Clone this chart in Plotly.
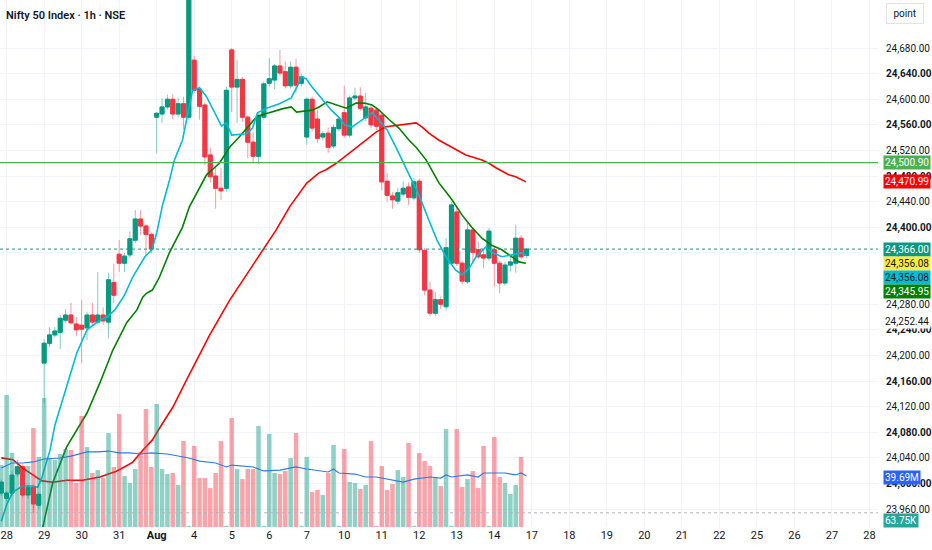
import plotly.graph_objects as go

# hourly bars, index 0 = last hour of Jul 25, then 7 bars per trading day
opens = [23985, 23977, 23985, 24015, 24026, 23982, 23994, 23966,
         24188, 24219, 24232, 24236, 24255, 24263, 24249,
         24247, 24243, 24263, 24252, 24263, 24252, 24314,
         24358, 24344, 24357, 24380, 24413, 24402, 24389,
         24572, 24577, 24588, 24600, 24577, 24593, 24572,
         24661, 24616, 24591, 24513, 24480, 24461, 24461,
         24677, 24619, 24631, 24572, 24533, 24511, 24572,
         24625, 24630, 24652, 24643, 24621, 24650, 24625,
         24541, 24600, 24569, 24541, 24547, 24527, 24554,
         24579, 24544, 24602, 24605, 24571, 24586, 24583,
         24575, 24472, 24449, 24441, 24452, 24463, 24446,
         24472, 24364, 24302, 24266, 24287, 24276, 24344,
         24424, 24344, 24315, 24396, 24365, 24357, 24352,
         24365, 24344, 24313, 24341, 24344, 24383, 24356]
highs = [24006, 23988, 24020, 24037, 24030, 23998, 23998, 23986,
         24225, 24244, 24244, 24263, 24272, 24282, 24260,
         24287, 24268, 24282, 24330, 24275, 24329, 24343,
         24380, 24360, 24394, 24427, 24427, 24405, 24392,
         24580, 24602, 24607, 24608, 24602, 24604, 24790,
         24668, 24620, 24595, 24525, 24493, 24493, 24620,
         24680, 24661, 24635, 24575, 24549, 24578, 24628,
         24664, 24655, 24677, 24659, 24659, 24663, 24640,
         24603, 24604, 24583, 24550, 24556, 24560, 24572,
         24621, 24606, 24618, 24619, 24610, 24590, 24587,
         24580, 24485, 24455, 24462, 24472, 24470, 24477,
         24476, 24368, 24315, 24299, 24292, 24383, 24440,
         24430, 24348, 24407, 24399, 24378, 24366, 24399,
         24370, 24348, 24346, 24355, 24404, 24388, 24368]
lows = [23980, 23972, 23980, 24010, 23978, 23976, 23954, 23960,
        24125, 24213, 24228, 24210, 24250, 24248, 24230,
        24188, 24224, 24245, 24248, 24248, 24227, 24282,
        24330, 24330, 24352, 24375, 24388, 24355, 24360,
        24516, 24563, 24584, 24569, 24572, 24553, 24568,
        24610, 24568, 24497, 24470, 24429, 24443, 24455,
        24580, 24563, 24565, 24508, 24500, 24499, 24568,
        24620, 24616, 24636, 24617, 24617, 24610, 24620,
        24529, 24550, 24532, 24536, 24516, 24523, 24550,
        24540, 24540, 24598, 24582, 24566, 24555, 24552,
        24458, 24440, 24429, 24436, 24448, 24435, 24442,
        24360, 24294, 24262, 24262, 24272, 24270, 24340,
        24340, 24311, 24312, 24346, 24350, 24336, 24348,
        24307, 24297, 24309, 24331, 24329, 24350, 24352]
closes = [24002, 23985, 24013, 24026, 23982, 23994, 23968, 23983,
          24219, 24232, 24238, 24258, 24263, 24251, 24240,
          24241, 24263, 24252, 24263, 24254, 24318, 24294,
          24344, 24355, 24382, 24413, 24402, 24389, 24366,
          24578, 24588, 24600, 24577, 24593, 24572, 24780,
          24614, 24589, 24510, 24479, 24461, 24457, 24614,
          24619, 24631, 24572, 24533, 24511, 24574, 24624,
          24632, 24652, 24641, 24621, 24650, 24622, 24635,
          24600, 24555, 24539, 24546, 24525, 24556, 24569,
          24544, 24602, 24605, 24586, 24588, 24560, 24558,
          24471, 24450, 24443, 24454, 24461, 24447, 24471,
          24365, 24302, 24266, 24287, 24280, 24368, 24435,
          24344, 24316, 24396, 24361, 24354, 24352, 24394,
          24344, 24313, 24341, 24346, 24383, 24354, 24366]
volume_m = [48.2, 102.7, 57.6, 46.7, 44.3, 47.5, 77.0, 54.5,
            100.4, 53.7, 52.1, 56.8, 60.7, 59.9, 34.2,
            86.4, 62.2, 42.0, 44.3, 38.1, 73.1, 46.7,
            87.9, 39.7, 34.2, 45.1, 58.4, 91.8, 46.7,
            95.7, 45.1, 41.2, 42.0, 32.7, 66.9, 0.9,
            63.0, 38.1, 38.1, 30.3, 42.0, 66.9, 0.9,
            84.8, 45.1, 37.3, 45.1, 45.1, 78.6, 0.9,
            72.4, 42.0, 41.2, 43.6, 53.7, 73.1, 0.9,
            54.5, 27.2, 28.8, 24.9, 42.0, 63.8, 0.9,
            60.7, 35.0, 34.2, 29.6, 32.7, 66.9, 0.9,
            47.5, 28.8, 33.5, 44.3, 38.9, 65.4, 0.9,
            57.6, 51.3, 47.5, 38.1, 31.9, 76.2, 0.9,
            76.2, 31.1, 37.3, 43.6, 30.3, 63.0, 0.9,
            70.0, 38.9, 34.2, 25.7, 32.7, 54.5, 0.064]

# moving averages (bar index, value)
fast_x = [0, 1.1, 2.2, 4, 5.9, 6.8, 7.6, 9.1, 10, 11.3, 12.2, 14.1, 16, 18.4, 19.7, 21.2,
          23, 24.5, 26.8, 28.1, 29, 30.1, 31.4, 32.3, 33.8, 34.8, 35.7, 37, 38.3, 41.1,
          42, 43, 45.7, 46.9, 47.8, 49.5, 51.9, 54.1, 55.1, 56, 56.9, 58, 59.9, 61.6,
          63.1, 64, 65.5, 67.3, 69.2, 70.9, 72, 73.7, 75.5, 76.7, 78, 79.8, 81.3, 83,
          84.8, 86, 87.3, 88.6, 90.4, 91.5, 93.4, 95.3, 97.1, 98]
fast_y = [23941, 23969, 23987, 23996, 23996, 23994, 24010, 24052, 24091, 24127, 24149,
          24204, 24240, 24255, 24260, 24271, 24294, 24322, 24354, 24365, 24391, 24435,
          24474, 24505, 24536, 24579, 24614, 24618, 24604, 24558, 24563, 24544, 24546,
          24555, 24579, 24586, 24593, 24602, 24618, 24635, 24632, 24619, 24599, 24583,
          24571, 24560, 24557, 24568, 24579, 24563, 24552, 24524, 24493, 24474, 24449,
          24411, 24380, 24354, 24333, 24326, 24336, 24354, 24369, 24361, 24354, 24357,
          24360, 24356]
mid_x = [7.4, 9.6, 12.2, 14.1, 16, 18.4, 20.8, 23.4, 25.3, 26.4, 27.1, 28.2, 29.5, 31.4,
         33.8, 35.1, 37, 38.3, 40.7, 42.6, 44.4, 46.3, 47.8, 50, 52.4, 54.1, 55.1, 58,
         59.3, 60.8, 63.1, 64.4, 66.2, 67.7, 69.2, 70.5, 72.4, 74.2, 76.1, 77.4, 79.3,
         81.7, 83, 84.1, 86, 87.8, 89.7, 91.5, 93.4, 95.3, 96.6, 97.9]
mid_y = [23919, 24001, 24057, 24083, 24110, 24157, 24208, 24251, 24271, 24291, 24297,
         24302, 24322, 24361, 24400, 24432, 24463, 24482, 24500, 24525, 24541, 24560,
         24574, 24579, 24585, 24588, 24580, 24583, 24588, 24596, 24589, 24586, 24594,
         24594, 24591, 24583, 24568, 24555, 24536, 24525, 24505, 24469, 24455, 24443,
         24419, 24400, 24383, 24372, 24365, 24354, 24346, 24344]
slow_x = [0, 2.2, 4, 5.9, 7.6, 9.6, 12.2, 15.2, 18.4, 21.5, 24.5, 26.4, 28.2, 30.1, 32,
          34.6, 37, 38.9, 42.6, 46.3, 48.7, 51.3, 53.8, 57, 59.3, 60.6, 62.5, 64.9, 68.1,
          70, 71.8, 74.2, 77.4, 78.5, 79.8, 81.7, 84.8, 86.7, 89.7, 91, 92.3, 94.7, 96,
          97.9]
slow_y = [24040, 24037, 24024, 24013, 24004, 24002, 24005, 24005, 24010, 24019, 24033,
          24052, 24068, 24094, 24119, 24162, 24201, 24232, 24286, 24333, 24365, 24396,
          24432, 24469, 24485, 24490, 24500, 24516, 24536, 24549, 24557, 24560, 24563,
          24557, 24547, 24536, 24521, 24513, 24505, 24500, 24493, 24482, 24479, 24471]
vol_ma_x = [0, 2, 4, 6, 8, 11, 13, 16, 18, 20, 22, 24, 26, 28, 31, 33, 35, 37, 40, 42, 43,
            47, 49, 52, 55, 57, 61, 62, 63, 66, 68, 70, 72, 75, 77, 80, 82, 83, 84, 87,
            89, 90, 94, 96, 97, 98]
vol_ma_y = [45.9, 49.8, 49.8, 50.6, 52.9, 53.7, 55.2, 58.4, 58.4, 59.1, 57.6, 57.6, 56.8,
            57.6, 56.8, 55.2, 53.7, 51.3, 49.8, 46.7, 48.2, 46.7, 43.6, 44.3, 46.7, 45.1,
            42.8, 45.1, 42.0, 41.2, 38.9, 38.9, 37.3, 35.0, 37.3, 38.9, 38.1, 40.5, 38.9,
            40.5, 38.9, 42.0, 42.0, 40.5, 42.0, 39.69]

level_line = 24500.90
last_price = 24366.00
day_labels = ["28", "29", "30", "31", "<b>Aug</b>", "4", "5", "6", "7", "10", "11", "12",
              "13", "14", "17", "18", "19", "20", "21", "22", "25", "26", "27", "28"]
# 24,320 sits fully under the stacked value tags in the reference
price_ticks = [v for v in range(23960, 24681, 40) if v != 24320]

UP, DOWN = "#089981", "#f23645"
FONT = "Roboto, Arial, sans-serif"

idx = list(range(len(opens)))
body_hi = [max(o, c) for o, c in zip(opens, closes)]
body_lo = [min(o, c) for o, c in zip(opens, closes)]
vol_colors = ["rgba(8,153,129,0.45)" if c >= o else "rgba(242,54,69,0.45)"
              for o, c in zip(opens, closes)]

fig = go.Figure()

# wicks (light) then bodies (solid)
fig.add_trace(go.Candlestick(
    x=idx, open=opens, high=highs, low=lows, close=closes,
    increasing=dict(line=dict(color="rgba(8,153,129,0.5)", width=1), fillcolor="rgba(8,153,129,0.5)"),
    decreasing=dict(line=dict(color="rgba(242,54,69,0.5)", width=1), fillcolor="rgba(242,54,69,0.5)"),
    whiskerwidth=0, hoverinfo="skip", showlegend=False))
fig.add_trace(go.Candlestick(
    x=idx, open=opens, high=body_hi, low=body_lo, close=closes,
    increasing=dict(line=dict(color=UP, width=1), fillcolor=UP),
    decreasing=dict(line=dict(color=DOWN, width=1), fillcolor=DOWN),
    whiskerwidth=0, hoverinfo="skip", showlegend=False))

fig.add_trace(go.Scatter(x=slow_x, y=slow_y, mode="lines", line=dict(color="#ff0000", width=1.6),
                         hoverinfo="skip", showlegend=False))
fig.add_trace(go.Scatter(x=mid_x, y=mid_y, mode="lines", line=dict(color="#008000", width=1.6),
                         hoverinfo="skip", showlegend=False))
fig.add_trace(go.Scatter(x=fast_x, y=fast_y, mode="lines", line=dict(color="#00bcd4", width=1.6),
                         hoverinfo="skip", showlegend=False))

# volume overlay
fig.add_trace(go.Bar(x=idx, y=volume_m, yaxis="y2", width=0.85, marker=dict(color=vol_colors, line=dict(width=0)),
                     hoverinfo="skip", showlegend=False))
fig.add_trace(go.Scatter(x=vol_ma_x, y=vol_ma_y, yaxis="y2", mode="lines",
                         line=dict(color="#2f7ae5", width=1.2), hoverinfo="skip", showlegend=False))

fig.add_hline(y=level_line, line=dict(color="#4caf50", width=1.3))
fig.add_hline(y=last_price, line=dict(color=UP, width=1, dash="dot"))
fig.add_shape(type="line", xref="paper", yref="paper", x0=0, x1=1, y0=0.027, y1=0.027,
              line=dict(color="#b2b5be", width=1, dash="dot"))

tick_text = ["<b>%s</b>" % f"{v:,.2f}" if (v - 24000) % 80 == 0 else f"{v:,.2f}" for v in price_ticks]

fig.update_layout(
    width=932, height=550,
    margin=dict(l=0, r=52, t=0, b=23),
    paper_bgcolor="white", plot_bgcolor="white",
    font=dict(family=FONT, size=10, color="#131722"),
    boxgap=0.15, boxgroupgap=0.12,
    xaxis=dict(range=[-0.24, 163.6], tickvals=[1 + 7 * k for k in range(len(day_labels))],
               ticktext=day_labels, showgrid=True, gridcolor="#f0f3fa", zeroline=False,
               rangeslider=dict(visible=False), ticks="", tickfont=dict(size=11)),
    yaxis=dict(range=[23932, 24755], side="right", tickvals=price_ticks, ticktext=tick_text,
               showgrid=True, gridcolor="#f0f3fa", zeroline=False,
               ticks="outside", ticklen=5, tickcolor="rgba(0,0,0,0)", tickfont=dict(size=10)),
    yaxis2=dict(range=[0, 410], overlaying="y", visible=False),
    hovermode=False,
)

labels = [
    (level_line, "y", "24,500.90", "#4caf50", "white", 0),
    (24470.99, "y", "24,470.99", "#ff0000", "white", 0),
    (last_price, "y", "24,366.00", UP, "white", 0),
    (24356.08, "y", "24,356.08", "#ffeb3b", "#131722", -8),
    (24356.08, "y", "24,356.08", "#00bcd4", "#131722", -22),
    (24345.95, "y", "24,345.95", "#008000", "white", -30),
    (24252.44, "y", "24,252.44", "white", "#131722", 0),
    (39.69, "y2", "39.69M", "#2962ff", "white", -2),
    (0.064, "y2", "63.75K", "#26a69a", "white", 6),
]
for val, ref, txt, bg, fc, shift in labels:
    fig.add_annotation(x=1, xref="paper", y=val, yref=ref, text=txt, showarrow=False,
                       xanchor="left", xshift=5, yshift=shift, bgcolor=bg, borderpad=1,
                       font=dict(color=fc, size=10, family=FONT))

fig.add_annotation(x=0, xref="paper", y=1, yref="paper", xanchor="left", yanchor="top",
                   xshift=4, yshift=-7, text="Nifty 50 Index · 1h · NSE", showarrow=False,
                   font=dict(size=11, color="#131722", family=FONT, weight=600))
fig.add_annotation(x=1, xref="paper", y=1, yref="paper", xanchor="left", yanchor="top",
                   xshift=8, yshift=-3, text=" point ", showarrow=False,
                   bordercolor="#e0e3eb", borderwidth=1, borderpad=4, bgcolor="white",
                   font=dict(size=10, color="#131722", family=FONT))

fig.write_html("out.html", config={"displayModeBar": False},
               post_script="document.body.style.margin='0';")
